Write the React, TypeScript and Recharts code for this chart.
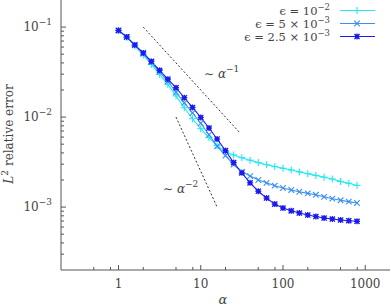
import React from 'react';
import { LineChart, Line, XAxis, YAxis } from 'recharts';

// alpha values (log spaced sample points)
const alpha = [
  1, 1.26, 1.58, 2, 2.51, 3.16, 3.98, 5.01, 6.31, 7.94,
  10, 12.6, 15.8, 20, 25.1, 31.6, 39.8, 50.1, 63.1, 79.4,
  100, 126, 158, 200, 251, 316, 398, 501, 631, 794,
];

// L2 relative error, eps = 1e-2
const errEps1 = [
  0.0918, 0.0768, 0.0618, 0.0491, 0.0385, 0.0299, 0.0231, 0.0172, 0.0127, 0.00959,
  0.00743, 0.0059, 0.00481, 0.00413, 0.0038, 0.00354, 0.00332, 0.00312, 0.00296, 0.00282,
  0.0027, 0.00258, 0.00246, 0.00235, 0.00225, 0.00215, 0.00205, 0.00193, 0.00184, 0.00174,
];

// eps = 5e-3
const errEps2 = [
  0.0918, 0.0774, 0.0626, 0.0504, 0.0406, 0.0318, 0.025, 0.0189, 0.0144, 0.0111,
  0.00855, 0.00637, 0.00475, 0.00373, 0.00296, 0.00248, 0.00221, 0.002, 0.00186, 0.00173,
  0.00163, 0.00155, 0.00148, 0.00142, 0.00137, 0.0013, 0.00124, 0.00119, 0.00115, 0.00111,
];

// eps = 2.5e-3
const errEps3 = [
  0.0918, 0.0778, 0.0634, 0.0517, 0.0416, 0.0331, 0.0264, 0.0212, 0.0164, 0.0128,
  0.00991, 0.00756, 0.00571, 0.00424, 0.00312, 0.0024, 0.00186, 0.0015, 0.00126, 0.00108,
  0.000976, 0.000909, 0.000859, 0.000816, 0.000786, 0.000756, 0.000737, 0.000719, 0.000706, 0.000695,
];

// guide lines ~ alpha^-1 and ~ alpha^-2
const slope1X = [2, 30];
const slope1Y = [0.1, 0.00667];
const slope2X = [5, 16];
const slope2Y = [0.01, 0.000977];

const xMajor = [1, 10, 100, 1000];
const xMinor = [0.5, 0.8, 2, 5, 8, 20, 50, 80, 200, 500, 800];
const yMajor = [0.001, 0.01, 0.1];
const yExp = ['−3', '−2', '−1'];
const yMinor = [
  0.0003, 0.0004, 0.0005, 0.0006, 0.0007, 0.0008, 0.0009,
  0.002, 0.003, 0.004, 0.005, 0.006, 0.007, 0.008, 0.009,
  0.02, 0.03, 0.04, 0.05, 0.06, 0.07, 0.08, 0.09,
];

const AXIS = '#555';
const TEXT = '#444';
const FONT = '"DejaVu Serif", "Liberation Serif", serif';
const C1 = '#22e8f4';
const C2 = '#3a8ff0';
const C3 = '#1c1cf0';

const toPoints = (xs: number[], ys: number[]) => xs.map((x, i) => ({ x, y: ys[i] }));

const Plus = ({ cx, cy, color }: any) => (
  <g stroke={color} strokeWidth={1.1}>
    <line x1={cx - 3.5} x2={cx + 3.5} y1={cy} y2={cy} />
    <line x1={cx} x2={cx} y1={cy - 3.5} y2={cy + 3.5} />
  </g>
);

const Cross = ({ cx, cy, color }: any) => (
  <g stroke={color} strokeWidth={1.1}>
    <line x1={cx - 2.8} x2={cx + 2.8} y1={cy - 2.8} y2={cy + 2.8} />
    <line x1={cx - 2.8} x2={cx + 2.8} y1={cy + 2.8} y2={cy - 2.8} />
  </g>
);

const Star = ({ cx, cy, color }: any) => (
  <g stroke={color} strokeWidth={1.3}>
    <rect x={cx - 2} y={cy - 2} width={4} height={4} fill={color} stroke="none" />
    <line x1={cx - 3} x2={cx + 3} y1={cy} y2={cy} />
    <line x1={cx} x2={cx} y1={cy - 3} y2={cy + 3} />
    <line x1={cx - 2.6} x2={cx + 2.6} y1={cy - 2.6} y2={cy + 2.6} />
    <line x1={cx - 2.6} x2={cx + 2.6} y1={cy + 2.6} y2={cy - 2.6} />
  </g>
);

const XTick = ({ x, y, payload, top }: any) => {
  const v = payload.value;
  const major = xMajor.includes(v);
  const len = major ? 5 : 3;
  return (
    <g>
      <line x1={x} x2={x} y1={y} y2={top ? y + len : y - len} stroke={AXIS} />
      {!top && major && (
        <text x={x} y={y + 18} textAnchor="middle" fontSize={12} fill={TEXT} style={{ fontFamily: FONT }}>
          {String(v)}
        </text>
      )}
    </g>
  );
};

const YTick = ({ x, y, payload, right }: any) => {
  const v = payload.value;
  const idx = yMajor.indexOf(v);
  const major = idx >= 0;
  const len = major ? 5 : 3;
  return (
    <g>
      <line x1={x} x2={right ? x - len : x + len} y1={y} y2={y} stroke={AXIS} />
      {!right && major && (
        <text x={x - 9} y={y + 4} textAnchor="end" fontSize={12} fill={TEXT} style={{ fontFamily: FONT }}>
          <tspan>10</tspan>
          <tspan dy={-6} fontSize={9}>{yExp[idx]}</tspan>
        </text>
      )}
    </g>
  );
};

const legendRows = [
  { label: ['ϵ = 10', '−2'], color: C1, Mark: Plus },
  { label: ['ϵ = 5 × 10', '−3'], color: C2, Mark: Cross },
  { label: ['ϵ = 2.5 × 10', '−3'], color: C3, Mark: Star },
];

export default function App() {
  const xTicks = [...xMinor, ...xMajor].sort((a, b) => a - b);
  const yTicks = [...yMinor, ...yMajor].sort((a, b) => a - b);
  const xDomain = [0.2, 2000];
  const yDomain = [0.0002, 0.2];

  const series = [
    { data: toPoints(alpha, errEps1), color: C1, Mark: Plus },
    { data: toPoints(alpha, errEps2), color: C2, Mark: Cross },
    { data: toPoints(alpha, errEps3), color: C3, Mark: Star },
  ];

  return (
    <div style={{ position: 'absolute', left: 0, top: 0, width: 391, height: 306, background: '#fff' }}>
      <LineChart width={391} height={306} margin={{ top: 0, right: 1, bottom: 0, left: 0 }}>
        <XAxis
          xAxisId="b"
          dataKey="x"
          type="number"
          scale="log"
          domain={xDomain}
          allowDataOverflow
          ticks={xTicks}
          interval={0}
          height={36}
          tickSize={0}
          tickMargin={0}
          tickLine={false}
          axisLine={{ stroke: AXIS }}
          tick={(p: any) => <XTick {...p} />}
        />
        <XAxis
          xAxisId="t"
          orientation="top"
          dataKey="x"
          type="number"
          scale="log"
          domain={xDomain}
          allowDataOverflow
          ticks={xTicks}
          interval={0}
          height={0}
          tickSize={0}
          tickMargin={0}
          tickLine={false}
          axisLine={{ stroke: AXIS }}
          tick={(p: any) => <XTick {...p} top />}
        />
        <YAxis
          yAxisId="l"
          type="number"
          scale="log"
          domain={yDomain}
          allowDataOverflow
          ticks={yTicks}
          interval={0}
          width={61}
          tickSize={0}
          tickMargin={0}
          tickLine={false}
          axisLine={{ stroke: AXIS }}
          tick={(p: any) => <YTick {...p} />}
        />
        <YAxis
          yAxisId="r"
          orientation="right"
          type="number"
          scale="log"
          domain={yDomain}
          allowDataOverflow
          ticks={yTicks}
          interval={0}
          width={0}
          tickSize={0}
          tickMargin={0}
          tickLine={false}
          axisLine={{ stroke: AXIS }}
          tick={(p: any) => <YTick {...p} right />}
        />
        <Line
          xAxisId="b"
          yAxisId="l"
          data={toPoints(slope1X, slope1Y)}
          dataKey="y"
          stroke="#333"
          strokeWidth={1}
          strokeDasharray="2 2"
          dot={false}
          isAnimationActive={false}
        />
        <Line
          xAxisId="b"
          yAxisId="l"
          data={toPoints(slope2X, slope2Y)}
          dataKey="y"
          stroke="#333"
          strokeWidth={1}
          strokeDasharray="2 2"
          dot={false}
          isAnimationActive={false}
        />
        {series.map((s, i) => (
          <Line
            key={i}
            xAxisId="b"
            yAxisId="l"
            data={s.data}
            dataKey="y"
            stroke={s.color}
            strokeWidth={1.1}
            dot={(p: any) => <s.Mark key={p.index} cx={p.cx} cy={p.cy} color={s.color} />}
            isAnimationActive={false}
          />
        ))}
      </LineChart>
      <svg
        width={391}
        height={306}
        style={{ position: 'absolute', left: 0, top: 0, pointerEvents: 'none', fontFamily: FONT }}
        fill={TEXT}
      >
        <text x={13} y={134} transform="rotate(-90 13 134)" textAnchor="middle" fontSize={12}>
          <tspan fontStyle="italic">L</tspan>
          <tspan dy={-5} fontSize={9}>2</tspan>
          <tspan dy={5}> relative error</tspan>
        </text>
        <text x={223} y={304} textAnchor="middle" fontSize={13} fontStyle="italic">α</text>
        <text x={204} y={78} fontSize={12}>
          <tspan>∼ </tspan>
          <tspan fontStyle="italic">α</tspan>
          <tspan dy={-6} fontSize={9}>−1</tspan>
        </text>
        <text x={163} y={193} fontSize={12}>
          <tspan>∼ </tspan>
          <tspan fontStyle="italic">α</tspan>
          <tspan dy={-6} fontSize={9}>−2</tspan>
        </text>
        {legendRows.map((r, i) => {
          const y = 10.5 + i * 13;
          return (
            <g key={i}>
              <text x={330} y={y + 4} textAnchor="end" fontSize={11.5}>
                <tspan>{r.label[0]}</tspan>
                <tspan dy={-4.5} fontSize={8.5}>{r.label[1]}</tspan>
              </text>
              <line x1={340} x2={375} y1={y} y2={y} stroke={r.color} strokeWidth={1.1} />
              <r.Mark cx={357} cy={y} color={r.color} />
            </g>
          );
        })}
      </svg>
    </div>
  );
}
